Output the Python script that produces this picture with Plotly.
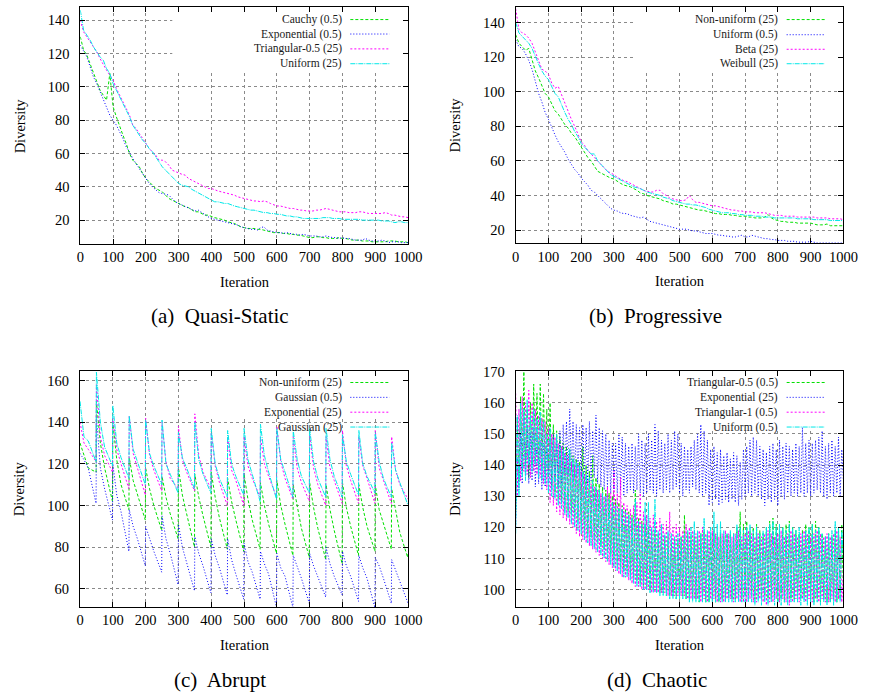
import plotly.graph_objects as go

W, H = 877, 698

# ---------------- iteration axes ----------------
ITER_AB = list(range(0, 1001, 10))
ITER_D = list(range(0, 1001, 5))
C_PERIOD_STARTS = list(range(0, 1000, 50))
C_OFFSETS = [0, 12, 25, 49]
ITER_C = [s + o for s in C_PERIOD_STARTS for o in C_OFFSETS] + [1000]

X_TICKS = [0, 100, 200, 300, 400, 500, 600, 700, 800, 900, 1000]

# ---------------- (a) Quasi-Static ----------------
A_NAMES = ["Cauchy (0.5)", "Exponential (0.5)", "Triangular-0.5 (25)", "Uniform (25)"]
A_CAUCHY = [130, 122, 119, 114, 108, 103, 98, 95, 92, 108, 88, 82, 76, 71, 66, 60, 56, 54, 52, 48,
            45, 43, 41, 39, 38, 37, 35, 33, 32, 31, 30, 29, 28, 27.5, 26, 25, 25, 24, 23, 23,
            22, 21.5, 21, 20.5, 20, 19, 18.5, 18, 17, 16, 15.5, 15, 15, 15, 14.5, 14.5, 14, 13.5, 13, 12.5,
            12.5, 12.5, 12, 12, 11.5, 11.5, 11, 11, 10.5, 10, 9.5, 9.5, 10, 10, 9.5, 9.5, 9, 9, 9, 9.5,
            9, 9, 8.5, 8, 8, 8, 7.5, 7.5, 7.5, 7, 7, 7, 7, 7, 7.5, 7.5, 7.5, 7, 7, 7, 6.5]
A_EXPON = [125, 121, 118, 112, 106, 102, 97, 92, 87, 83, 80, 77, 73, 69, 64, 61, 57, 54, 51, 48,
           45, 42, 40, 38, 36.5, 36, 35.5, 35, 33, 31, 30, 29, 28, 27, 26, 25.5, 26, 24.5, 23.5, 22,
           21, 20.5, 20, 19.5, 19, 18.5, 18, 17.5, 17, 16, 15.5, 15, 14.5, 14.5, 14, 15.5, 16, 14, 13.5, 13,
           12.5, 12.5, 12, 12.5, 12, 11.5, 11.5, 11, 11.5, 11, 10.5, 10.5, 10.5, 10, 10, 10.5, 10, 9.5, 9.5, 9,
           9.5, 9, 9, 8.5, 8, 8, 8, 9, 8, 7.5, 7.5, 7.5, 8, 7.5, 6.5, 7, 7, 7, 6.5, 6.5, 6.5]
A_TRI05 = [140, 133, 130, 127, 124, 121, 117, 113, 110, 107, 104, 99, 95, 91, 87, 83, 77, 75, 72, 69,
           66, 63, 61, 59, 56, 56, 55, 53, 50, 49, 48, 47.5, 47, 45, 44, 43, 42, 41, 40, 39,
           39, 38, 37.5, 37, 36.5, 36, 35.5, 35, 34, 33.5, 33, 32.5, 32, 31.5, 31.5, 31, 31.5, 31, 30, 29,
           28.5, 28.5, 28, 27.5, 27, 27, 26.5, 26, 26, 25.5, 25.5, 25.5, 26, 26, 26.5, 27, 26.5, 26, 25.5, 25,
           25, 25, 24.5, 24.5, 24.5, 25, 25, 24.5, 24, 24, 24, 24, 24, 24.5, 24, 23, 23, 22.5, 22, 22, 21.5]
A_UNIF = [146, 134, 131, 128, 124, 121, 118, 116, 111, 108, 102, 98, 94, 90, 86, 82, 77, 74, 71, 68,
          66, 63, 61, 58, 55, 52, 50, 48, 46, 44, 42, 41, 40.5, 40, 38.5, 37.5, 36.5, 35.5, 34, 33,
          32, 31, 31, 30.5, 30, 30, 29, 28.5, 28, 27.5, 27, 26.5, 26, 26, 25.5, 25, 24.5, 24.5, 24, 24,
          23.5, 23.5, 23, 22.5, 22.5, 22, 22, 21.5, 21, 21, 21, 21, 21, 21, 21.5, 21.5, 21.5, 21, 21, 21,
          20.5, 20.5, 20.5, 20.5, 20.5, 20.5, 20, 20, 20, 20, 20, 20, 19.5, 19.5, 19.5, 19, 18.5, 19, 19, 18.5, 18.5]

# ---------------- (b) Progressive ----------------
B_NAMES = ["Non-uniform (25)", "Uniform (0.5)", "Beta (25)", "Weibull (25)"]
B_NONUNIF = [133, 128, 126, 124, 125, 118, 112, 108, 104, 99, 97, 93, 89, 87, 84, 81, 79, 76, 74, 71,
             68, 65, 62, 60, 57, 54, 53, 52, 51, 50, 49.5, 48, 47, 46, 45.5, 45, 44, 43, 41.5, 41,
             40, 39.5, 39, 38.5, 38, 37, 36.5, 36, 35, 35, 34.5, 34, 33.5, 33, 32.5, 32, 31.5, 31.5, 31, 30.5,
             30, 29.5, 29.5, 29, 29, 29, 28.5, 28.5, 28, 28, 28, 27.5, 27.5, 27, 27, 27, 27.5, 29, 27, 26,
             25.5, 25, 25, 24.5, 24.5, 24.5, 24, 24, 24, 24, 24, 23.5, 23, 23, 23, 23.5, 22.5, 22.5, 22.5, 22.5, 22.5]
B_UNIF = [130, 126, 125, 122, 118, 113, 106, 99, 94, 88, 84, 79, 75, 71, 68, 65, 61, 58, 55, 53,
          50, 48, 46, 43, 42, 40, 38, 36, 34, 32.5, 31.5, 31, 30, 29.5, 29.5, 28.5, 28, 27.5, 27, 27.5,
          26, 25, 24.5, 24, 23.5, 23, 22.5, 22, 21.5, 21, 20.5, 20.5, 20.5, 20, 19.5, 19.5, 19, 18.5, 18, 18,
          18, 17.5, 17, 17, 16.5, 16.5, 16, 16, 16.5, 17, 16, 16, 17, 16.5, 16, 15.5, 15, 15, 14.5, 14.5,
          14, 14, 14, 13.5, 13.5, 13.5, 13, 13, 13, 13, 13.5, 13, 12.5, 12.5, 12.5, 12.5, 12.5, 12.5, 12.5, 12.5, 12.5]
B_BETA = [148, 136, 134, 133, 131, 128, 123, 118, 113, 112, 110, 105, 102, 103, 98, 93, 89, 84, 80, 76,
          71, 69, 66, 64, 62, 60, 58, 56, 54, 53, 52, 50.5, 49.5, 48.5, 48, 47, 46, 45, 44, 43,
          42.5, 42, 42, 43, 43, 41, 40, 38.5, 38, 37.5, 37, 37, 37.5, 40, 37.5, 36, 36, 35.5, 35, 34.5,
          34, 34, 33.5, 33, 32.5, 32, 31.5, 31.5, 31, 31, 30.5, 30.5, 30.5, 30, 30, 30, 30, 29.5, 29, 28.5,
          28.5, 28.5, 28, 28, 28, 28, 27.5, 27.5, 27.5, 27.5, 27.5, 27.5, 27, 27, 27, 27, 26.5, 26.5, 26.5, 26.5, 26]
B_WEIB = [140, 134, 132, 130, 128, 125, 120, 116, 112, 109, 107, 103, 99, 97, 92, 88, 84, 81, 77, 74,
          70, 68, 66, 64, 64, 60, 58, 56, 54, 52, 51, 50, 49, 48, 47, 46, 45, 44.5, 44, 43,
          42, 41.5, 41, 40.5, 40, 39, 38.5, 38, 37, 36.5, 36, 35.5, 35, 35, 34.5, 34.5, 34, 33.5, 33, 32,
          31.5, 31, 30.5, 30, 30, 30, 29.5, 29.5, 29, 29, 28.5, 28.5, 28.5, 28, 28, 28, 27.5, 27.5, 27.5, 27,
          27, 27, 27, 27, 27, 27, 26.5, 26.5, 26.5, 26.5, 26.5, 26, 26, 26, 26, 26, 25.5, 25.5, 25.5, 25.5, 25.5]

# ---------------- (c) Abrupt (per 50-iteration period: start, +12, +25, +49) ----------------
C_NAMES = ["Non-uniform (25)", "Gaussian (0.5)", "Exponential (25)", "Gaussian (25)"]
C_NONUNIF = [130, 124, 118, 116, 150, 130, 118, 102, 140, 122, 110, 98, 123, 112, 105, 93,
             118, 108, 100, 88, 114, 104, 96, 84, 118, 105, 96, 80, 115, 104, 95, 80,
             116, 104, 94, 79, 113, 102, 93, 78, 115, 103, 93, 79, 111, 100, 91, 77,
             112, 100, 91, 76, 110, 99, 89, 75, 111, 99, 89, 74, 110, 98, 88, 72,
             111, 99, 90, 76, 110, 99, 90, 78, 110, 98, 91, 79, 108, 97, 87, 75, 77]
C_GAUSS05 = [125, 122, 118, 101, 143, 118, 108, 93, 120, 105, 97, 78, 98, 90, 84, 71,
             90, 84, 78, 68, 95, 84, 77, 62, 91, 80, 73, 59, 85, 77, 71, 58,
             84, 76, 70, 57, 84, 74, 67, 55, 82, 73, 68, 55, 78, 72, 67, 51,
             77, 70, 66, 51, 76, 71, 65, 53, 77, 71, 66, 56, 80, 72, 66, 57,
             78, 71, 66, 54, 76, 70, 65, 51, 75, 71, 65, 53, 74, 69, 64, 53, 53]
C_EXPON = [140, 130, 127, 121, 158, 133, 124, 116, 142, 127, 120, 108, 143, 125, 118, 105,
           142, 124, 117, 107, 140, 121, 113, 108, 138, 122, 116, 107, 144, 124, 116, 108,
           135, 119, 111, 100, 133, 117, 112, 100, 133, 119, 113, 104, 133, 120, 114, 104,
           138, 121, 113, 103, 133, 118, 111, 102, 134, 118, 110, 100, 133, 118, 112, 101,
           136, 119, 112, 101, 133, 119, 113, 101, 136, 118, 112, 101, 133, 117, 110, 103, 103]
C_GAUSS25 = [150, 133, 131, 121, 164, 140, 128, 119, 148, 130, 123, 113, 143, 127, 121, 110,
             141, 125, 119, 110, 141, 120, 115, 106, 135, 123, 118, 108, 140, 122, 115, 106,
             137, 120, 113, 104, 136, 120, 114, 105, 137, 122, 115, 102, 139, 124, 116, 103,
             137, 122, 116, 104, 136, 122, 114, 106, 137, 121, 113, 104, 137, 122, 114, 104,
             134, 121, 115, 105, 136, 120, 114, 106, 135, 121, 113, 104, 130, 117, 111, 101, 100]

# ---------------- (d) Chaotic (every 5 iterations) ----------------
D_NAMES = ["Triangular-0.5 (0.5)", "Exponential (25)", "Triangular-1 (0.5)", "Uniform (0.5)"]
D_TRI05 = [125, 155, 135, 162, 138, 170, 140, 158, 136, 160,
           140, 166, 141, 163, 139, 166, 140, 163, 137, 158,
           136, 160, 133, 153, 131, 151, 129, 149, 128, 147,
           126, 146, 125, 145, 124, 143, 123, 142, 122, 141,
           121, 146, 119, 140, 118, 138, 117, 143, 116, 136,
           115, 134, 114, 133, 113, 132, 112, 131, 111, 130,
           110, 129, 108, 128, 107, 127, 106, 126, 106, 125,
           105, 124, 104, 132, 103, 123, 102, 122, 101, 121,
           101, 120, 100, 119, 100, 119, 99, 118, 99, 118,
           99, 117, 98, 117, 98, 116, 98, 116, 97, 116,
           97, 117, 98, 124, 97, 118, 97, 117, 97, 117,
           97, 118, 96, 118, 97, 119, 96, 118, 96, 118,
           97, 119, 96, 118, 96, 118, 97, 117, 97, 118,
           97, 118, 97, 118, 97, 120, 98, 125, 97, 121,
           98, 122, 97, 119, 98, 120, 97, 121, 98, 119,
           97, 118, 98, 120, 97, 122, 97, 123, 98, 121,
           96, 119, 97, 120, 96, 121, 97, 122, 97, 120,
           97, 119, 98, 118, 97, 119, 98, 121, 97, 120,
           97, 121, 96, 122, 97, 120, 96, 118, 97, 117,
           96, 118, 96, 117, 97, 119, 96, 120, 97, 121,
           100]
D_EXPON = [120, 142, 132, 150, 134, 155, 136, 152, 134, 150,
           135, 152, 133, 150, 134, 148, 132, 147, 133, 146,
           134, 148, 132, 150, 135, 149, 133, 151, 134, 153,
           136, 154, 137, 158, 138, 154, 136, 153, 137, 152,
           136, 153, 135, 152, 134, 154, 135, 151, 136, 156,
           134, 152, 133, 151, 132, 150, 133, 148, 131, 147,
           132, 147, 131, 150, 132, 149, 130, 147, 131, 146,
           132, 147, 131, 146, 132, 150, 131, 148, 130, 147,
           131, 150, 132, 148, 131, 153, 130, 151, 132, 148,
           131, 147, 132, 150, 131, 148, 132, 151, 133, 150,
           131, 147, 130, 146, 132, 145, 131, 146, 133, 148,
           132, 150, 131, 153, 130, 151, 131, 148, 127, 145,
           128, 146, 129, 144, 127, 145, 128, 143, 129, 144,
           128, 142, 129, 144, 128, 143, 127, 141, 129, 145,
           130, 146, 131, 148, 130, 149, 131, 148, 130, 146,
           129, 145, 127, 144, 129, 146, 128, 147, 129, 145,
           127, 148, 130, 146, 129, 147, 131, 146, 130, 145,
           131, 147, 130, 146, 131, 152, 130, 147, 131, 148,
           130, 147, 131, 148, 132, 149, 131, 151, 130, 146,
           129, 147, 131, 148, 130, 146, 131, 149, 130, 145,
           135]
D_TRI1 = [163, 130, 158, 135, 162, 138, 160, 137, 164, 136,
          160, 138, 158, 137, 156, 136, 155, 134, 154, 132,
          152, 128, 150, 127, 149, 125, 147, 124, 146, 123,
          144, 122, 143, 121, 141, 120, 140, 118, 139, 117,
          138, 116, 137, 115, 135, 114, 134, 113, 133, 112,
          132, 111, 131, 110, 130, 109, 133, 108, 131, 107,
          138, 106, 131, 105, 136, 104, 128, 104, 127, 103,
          126, 102, 127, 101, 128, 101, 131, 100, 125, 100,
          124, 100, 123, 99, 124, 99, 122, 99, 123, 99,
          121, 99, 122, 98, 125, 98, 120, 98, 121, 98,
          120, 98, 119, 98, 121, 97, 120, 97, 119, 97,
          118, 97, 119, 96, 120, 97, 118, 96, 119, 97,
          119, 97, 118, 96, 117, 96, 118, 96, 119, 97,
          118, 97, 117, 96, 118, 97, 119, 96, 117, 96,
          118, 96, 119, 97, 118, 96, 117, 96, 118, 97,
          117, 96, 118, 95, 119, 96, 118, 96, 117, 97,
          118, 96, 119, 97, 117, 96, 118, 95, 119, 96,
          118, 97, 117, 96, 118, 97, 119, 96, 118, 97,
          117, 96, 118, 97, 119, 96, 118, 97, 117, 96,
          118, 96, 117, 97, 118, 96, 119, 97, 117, 96,
          105]
D_UNIF = [118, 156, 130, 160, 136, 158, 135, 161, 140, 156,
          138, 158, 140, 155, 136, 157, 135, 154, 134, 150,
          131, 152, 130, 148, 129, 150, 127, 146, 126, 145,
          124, 143, 123, 145, 121, 142, 120, 141, 119, 140,
          118, 138, 116, 137, 115, 136, 114, 135, 113, 133,
          112, 132, 111, 131, 110, 130, 109, 129, 108, 128,
          107, 127, 106, 126, 105, 126, 104, 125, 104, 124,
          103, 123, 102, 129, 101, 122, 101, 121, 100, 128,
          100, 128, 99, 120, 99, 129, 99, 119, 98, 121,
          98, 118, 98, 119, 97, 118, 97, 117, 97, 118,
          97, 117, 97, 118, 97, 119, 96, 120, 96, 122,
          96, 119, 96, 118, 96, 123, 96, 119, 96, 120,
          96, 125, 96, 121, 96, 122, 96, 119, 96, 118,
          96, 119, 96, 118, 96, 121, 96, 120, 96, 119,
          96, 120, 96, 121, 96, 119, 95, 120, 96, 118,
          95, 119, 96, 120, 95, 121, 96, 122, 95, 120,
          96, 121, 95, 120, 96, 119, 95, 121, 96, 120,
          96, 119, 96, 120, 95, 118, 96, 119, 95, 120,
          96, 121, 95, 119, 96, 120, 95, 118, 96, 117,
          95, 118, 96, 119, 95, 122, 96, 120, 96, 119,
          110]

CAPTIONS = ["(a)\u00a0 Quasi-Static", "(b)\u00a0 Progressive", "(c)\u00a0 Abrupt", "(d)\u00a0 Chaotic"]

# ---------------- styling ----------------
FONT = "Liberation Serif, Times New Roman, serif"
STYLES = [("#00e000", "3px,2px"), ("#0000ff", "1px,2px"),
          ("#ff00ff", "2px,2px"), ("#00e8e8", "5px,1px,1px,1px")]

# pixel boxes of the four plot areas: left, right, top, bottom
BOXES = [(78, 413, 0.5, 239.3), (523, 858, 0.5, 238.7),
         (77.7, 413, 367.7, 606), (523, 858, 367.7, 606)]
YRANGES = [[5.74, 147.6], [12.33, 148.7], [51.3, 164.56], [94.47, 170.19]]
YTICKS = [[20, 40, 60, 80, 100, 120, 140], [20, 40, 60, 80, 100, 120, 140],
          [60, 80, 100, 120, 140, 160], [100, 110, 120, 130, 140, 150, 160, 170]]
# legend key area (left px, bottom px), text right px, sample px, row y px
KEYBOX = [(172, 66), (643, 66.7), (199, 416), (608, 428)]
KEYTEXT_R = [348, 793.5, 348, 793.5]
KEYLINE = [(354, 394), (800, 839), (354, 394), (800, 839)]
KEYROWS = [[12.7, 27.3, 42.3, 57.3], [12.7, 28, 42.7, 57.3],
           [379.3, 394.3, 409.3, 424.3], [379.3, 394.3, 409.3, 424.3]]
CAPTION_POS = [(221, 312), (666, 312), (221, 680), (667, 680)]

panels = [
    (ITER_AB, [A_CAUCHY, A_EXPON, A_TRI05, A_UNIF], A_NAMES),
    (ITER_AB, [B_NONUNIF, B_UNIF, B_BETA, B_WEIB], B_NAMES),
    (ITER_C, [C_NONUNIF, C_GAUSS05, C_EXPON, C_GAUSS25], C_NAMES),
    (ITER_D, [D_TRI05, D_EXPON, D_TRI1, D_UNIF], D_NAMES),
]


def px(x):
    return x / W


def py(y):
    return 1 - y / H


fig = go.Figure()
layout = dict(width=W, height=H, margin=dict(l=0, r=0, t=0, b=0),
              paper_bgcolor="white", plot_bgcolor="white",
              font=dict(family=FONT, color="black", size=14), showlegend=False)
annotations, shapes = [], []

AX = dict(showline=True, linecolor="black", linewidth=1, mirror="ticks",
          ticks="inside", ticklen=5, tickwidth=1, tickcolor="black",
          showgrid=True, gridcolor="#8a8a8a", griddash="dot", gridwidth=1,
          zeroline=False, tickfont=dict(family=FONT, size=14.5, color="black"))

for i, (iters, series, names) in enumerate(panels):
    sfx = "" if i == 0 else str(i + 1)
    l, r, t, b = BOXES[i]
    y0, y1 = YRANGES[i]
    layout["xaxis" + sfx] = dict(AX, domain=[px(l), px(r)], range=[0, 1000],
                                 tickvals=X_TICKS, anchor="y" + sfx, ticklabelstandoff=0)
    layout["yaxis" + sfx] = dict(AX, domain=[py(b), py(t)], range=YRANGES[i],
                                 tickvals=YTICKS[i], anchor="x" + sfx, ticklabelstandoff=7)
    for vals, name, (col, dash) in zip(series, names, STYLES):
        fig.add_trace(go.Scatter(x=iters, y=vals, name=name, mode="lines",
                                 line=dict(color=col, width=1, dash=dash),
                                 xaxis="x" + sfx, yaxis="y" + sfx, showlegend=False))
    # key area hides the grid (in the subplot's own coordinates)
    kx, kb = KEYBOX[i]
    shapes.append(dict(type="rect", xref="x" + sfx, yref="y" + sfx,
                       x0=(kx - l) / (r - l) * 1000, x1=997,
                       y0=y0 + (b - kb) / (b - t) * (y1 - y0), y1=y1 - 0.2,
                       fillcolor="white", line=dict(width=0), layer="between"))
    for name, yrow, (col, dash) in zip(names, KEYROWS[i], STYLES):
        annotations.append(dict(text=name, x=px(KEYTEXT_R[i]), y=py(yrow), xref="paper", yref="paper",
                                xanchor="right", yanchor="middle", showarrow=False,
                                font=dict(family=FONT, size=11.5, color="#1a1a1a")))
        shapes.append(dict(type="line", xref="paper", yref="paper",
                           x0=px(KEYLINE[i][0]), x1=px(KEYLINE[i][1]), y0=py(yrow), y1=py(yrow),
                           line=dict(color=col, width=1, dash=dash), layer="above"))
    # axis titles
    annotations.append(dict(text="Iteration", x=px((l + r) / 2 + 0.5), y=py(b + 38.5),
                            xref="paper", yref="paper", xanchor="center", yanchor="middle",
                            showarrow=False, font=dict(family=FONT, size=14.5, color="black")))
    annotations.append(dict(text="Diversity", x=px(l - 62), y=py((t + b) / 2),
                            xref="paper", yref="paper", xanchor="center", yanchor="middle",
                            textangle=-90, showarrow=False,
                            font=dict(family=FONT, size=14.5, color="black")))
    cx, cy = CAPTION_POS[i]
    annotations.append(dict(text=CAPTIONS[i], x=px(cx), y=py(cy),
                            xref="paper", yref="paper", xanchor="center", yanchor="middle",
                            showarrow=False, font=dict(family=FONT, size=21, color="black")))

layout["annotations"] = annotations
layout["shapes"] = shapes
fig.update_layout(**layout)
fig.write_html("out.html", config={"displayModeBar": False},
               post_script="document.body.style.margin='0';document.body.style.overflow='hidden';")
